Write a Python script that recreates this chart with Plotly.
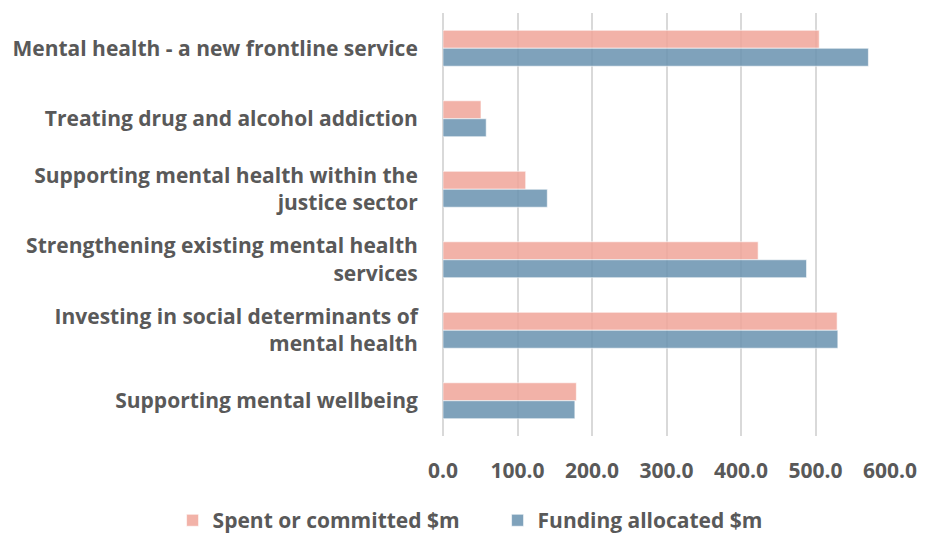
import plotly.graph_objects as go

categories = [
    "Mental health - a new frontline service",
    "Treating drug and alcohol addiction",
    "Supporting mental health within the<br>justice sector",
    "Strengthening existing mental health<br>services",
    "Investing in social determinants of<br>mental health",
    "Supporting mental wellbeing",
]
spent = [505, 51, 111, 423, 529, 179]
funding = [571, 58, 140, 488, 530, 177]
tick_vals = [0, 100, 200, 300, 400, 500, 600]
tick_text = ["0.0", "100.0", "200.0", "300.0", "400.0", "500.0", "600.0"]

txt = "#595959"
font = dict(family="Open Sans", size=21, color=txt, weight=700)

fig = go.Figure()
fig.add_trace(go.Bar(
    y=categories, x=spent, orientation="h", name="Spent or committed $m",
    marker=dict(color="rgba(240,164,153,0.85)", line=dict(color="rgba(255,255,255,0.6)", width=1)),
))
fig.add_trace(go.Bar(
    y=categories, x=funding, orientation="h", name="Funding allocated $m",
    marker=dict(color="rgba(104,146,175,0.85)", line=dict(color="rgba(255,255,255,0.6)", width=1)),
))

fig.update_layout(
    width=926, height=533,
    margin=dict(l=443, r=36, t=13, b=97, autoexpand=False),
    paper_bgcolor="white", plot_bgcolor="white",
    barmode="group", bargap=0.49, bargroupgap=0,
    font=font,
    showlegend=True,
    legend=dict(orientation="h", x=-0.605, xanchor="left",
                y=-0.2, yanchor="middle", entrywidth=280, entrywidthmode="pixels",
                font=font, itemwidth=30, traceorder="normal"),
    xaxis=dict(range=[0, 600], tickvals=tick_vals, ticktext=tick_text,
               showgrid=True, gridcolor="#D9D9D9", gridwidth=2,
               zeroline=True, zerolinecolor="#D9D9D9", zerolinewidth=2,
               ticks="outside", ticklen=16, tickcolor="rgba(0,0,0,0)",
               tickfont=font, showline=False, fixedrange=True),
    yaxis=dict(autorange="reversed", ticks="outside", ticklen=20, tickcolor="rgba(0,0,0,0)",
               tickfont=font, showgrid=False, showline=False),
)

fig.write_html("out.html")
